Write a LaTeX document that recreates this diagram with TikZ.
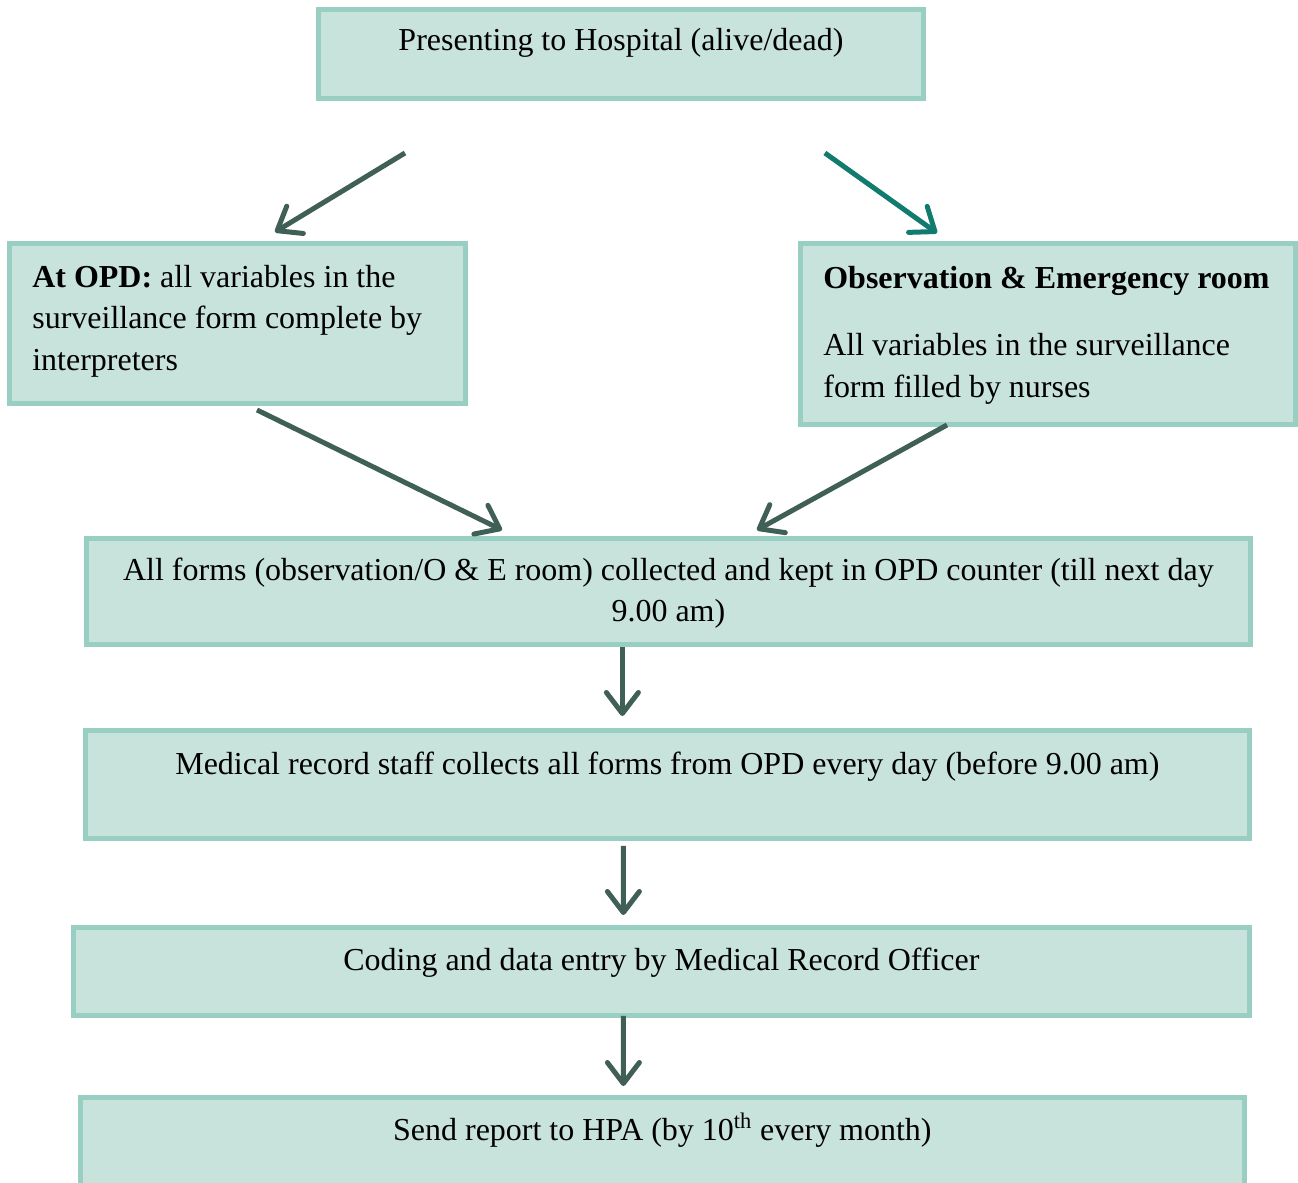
\documentclass[tikz,border=0pt]{standalone}
\usepackage{fontspec}
\setmainfont{Liberation Serif}
\usepackage{xcolor}
\usepackage{tikz}
\usetikzlibrary{arrows.meta}
\usetikzlibrary{calc}

\definecolor{boxfill}{HTML}{C8E2DC}
\definecolor{boxline}{HTML}{99CEC3}
\definecolor{arrowdark}{HTML}{3F5F57}
\definecolor{arrowteal}{HTML}{127B70}

\newcommand{\plainspaces}{\spaceskip=0pt\xspaceskip=0pt\relax}

\tikzset{
  stage/.style={draw=boxline, fill=boxfill, line width=0.1cm, inner sep=0pt, anchor=north west},
  txt/.style={inner sep=0pt, font=\fontsize{18.2}{23.8}\selectfont},
  flow/.style={line width=0.1cm, arrowdark, -{Straight Barb[length=0.42cm,width=0.64cm,line cap=round,line join=round]}}
}

\begin{document}
\begin{tikzpicture}[x=0.02cm,y=-0.02cm]
\useasboundingbox (0,0) rectangle (1298,1183);
\clip (0,0) rectangle (1298,1183);
% boxes
\node[stage, minimum width=12.1cm, minimum height=1.78cm] at (316,7) (top) {};
\node[stage, minimum width=9.12cm, minimum height=3.2cm] at (7,241) (opd) {};
\node[stage, minimum width=9.9cm, minimum height=3.62cm] at (798,241) (obs) {};
\node[stage, minimum width=23.28cm, minimum height=2.12cm] at (84,536) (forms) {};
\node[stage, minimum width=23.28cm, minimum height=2.16cm] at (83,728) (medical) {};
\node[stage, minimum width=23.52cm, minimum height=1.76cm] at (71,925) (coding) {};
\node[stage, minimum width=23.28cm, minimum height=2.6cm] at (78,1095) (send) {};
% texts
\node[txt, anchor=base] at ($(top.north)+(0,44)$) (topT) {Presenting to Hospital (alive/dead)};
\node[txt, anchor=base west, text width=9cm, align=flush left] at ($(opd.north west)+(25,46)$) (opdT)
  {\plainspaces\textbf{At OPD:} all variables in the\\surveillance form complete by\\interpreters};
\node[txt, anchor=base west, text width=9.5cm, align=flush left] at ($(obs.north west)+(25,47)$) (obsT)
  {\plainspaces\textbf{Observation \& Emergency room}\\[14.5pt]All variables in the surveillance\\form filled by nurses};
\node[txt, anchor=base, text width=23cm, align=flush center] at ($(forms.north)+(0,44)$) (formsT)
  {\plainspaces All forms (observation/O \& E room) collected and kept in OPD counter (till next day\\9.00 am)};
\node[txt, anchor=base] at ($(medical.north)+(0,46)$) (medicalT)
  {Medical record staff collects all forms from OPD every day (before 9.00 am)};
\node[txt, anchor=base] at ($(coding.north)+(0,45)$) (codingT)
  {Coding and data entry by Medical Record Officer};
\node[txt, anchor=base] at ($(send.north)+(0,45)$) (sendT)
  {Send report to HPA (by 10\textsuperscript{th} every month)};
% arrows
\draw[flow] ($(top.south west)+(89,52)$) -- ($(opd.north west)+(268,-9)$);
\draw[flow, arrowteal] ($(top.south east)+(-101,52)$) -- ($(obs.north west)+(139,-8)$);
\draw[flow] ($(opd.south west)+(250,4)$) -- ($(forms.north west)+(418,-6)$);
\draw[flow] ($(obs.south west)+(149,-2)$) -- ($(forms.north west)+(673,-6)$);
\draw[flow] ($(forms.south)+(-46,0)$) -- ($(medical.north)+(-45,-12)$);
\draw[flow] ($(medical.south)+(-44,5)$) -- ($(coding.north)+(-38,-10)$);
\draw[flow] ($(coding.south)+(-38,-2)$) -- ($(send.north)+(-39,-9)$);
\end{tikzpicture}
\end{document}
